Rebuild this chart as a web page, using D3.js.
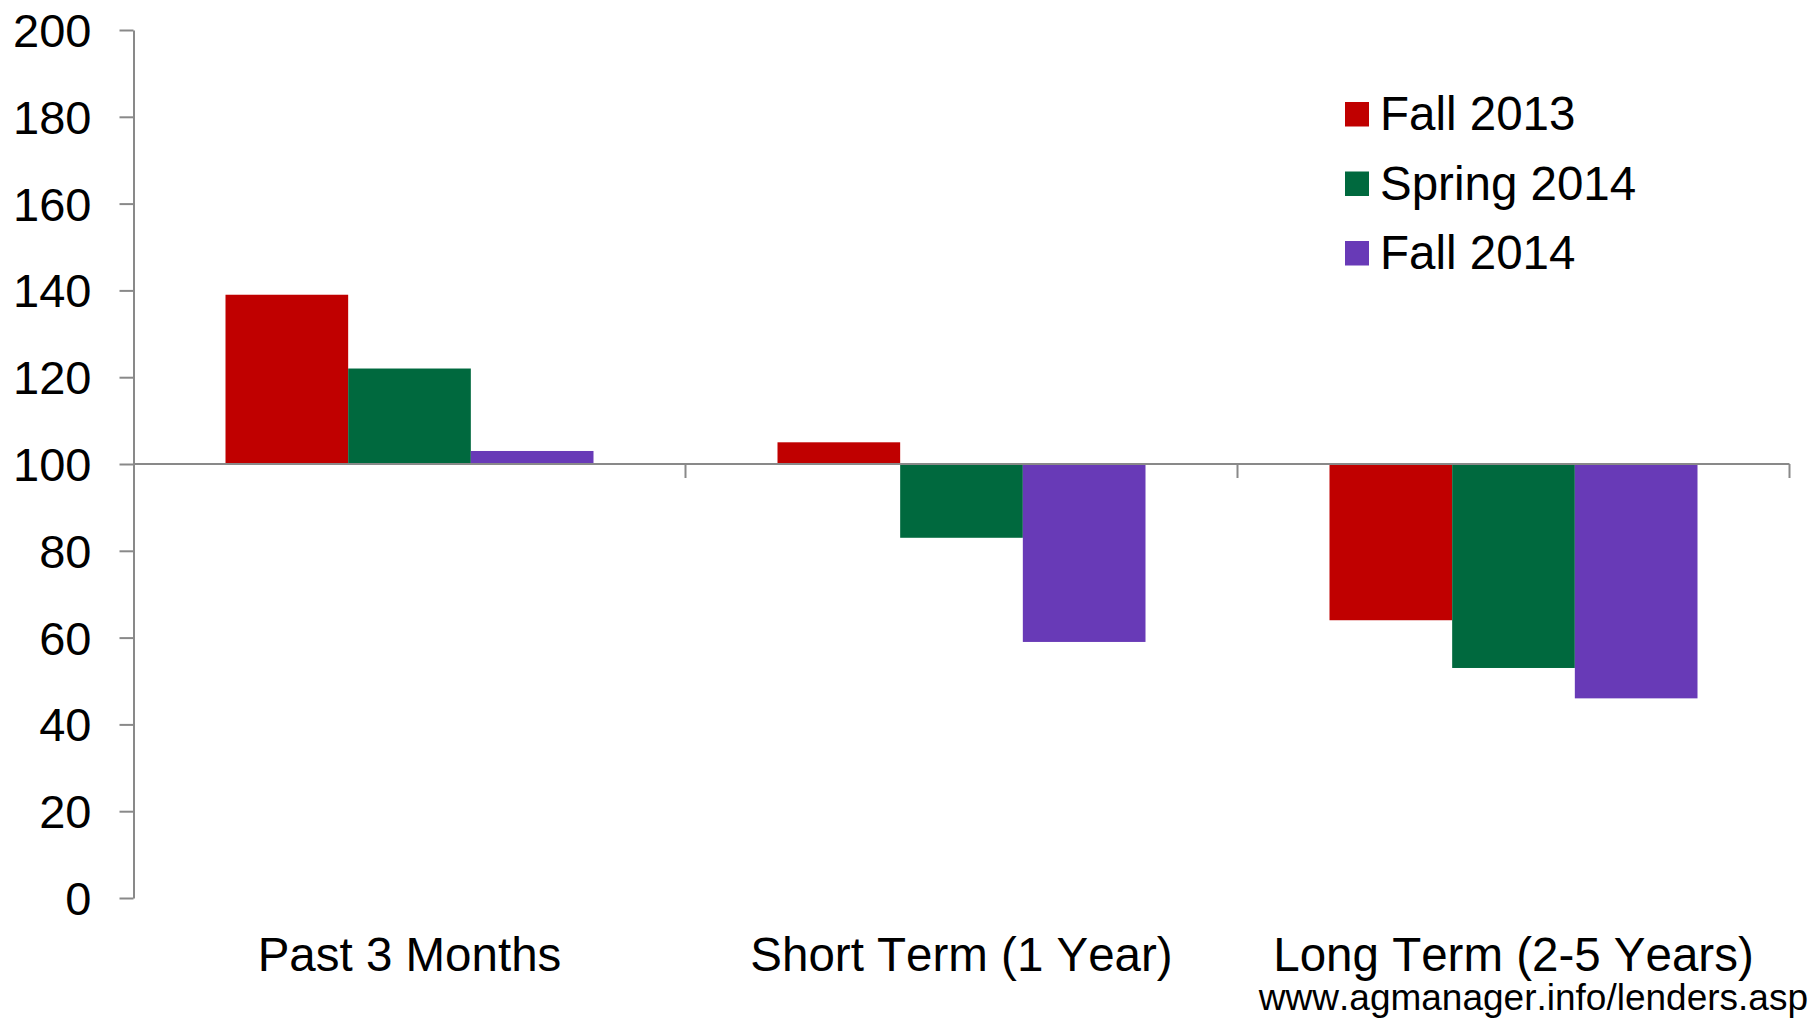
<!DOCTYPE html>
<html>
<head>
<meta charset="utf-8">
<script src="https://cdn.jsdelivr.net/npm/d3@7"></script>
<style>
  html, body { margin: 0; padding: 0; background: #fff; }
  svg { display: block; }
  text { font-family: "Liberation Sans", Arial, sans-serif; fill: #000; font-kerning: none; }
</style>
</head>
<body>
<svg id="chart" width="1819" height="1020"></svg>
<script>
// Lender survey index by outlook horizon (100 = neutral baseline)
const categories = ["Past 3 Months", "Short Term (1 Year)", "Long Term (2-5 Years)"];
const seriesNames = ["Fall 2013", "Spring 2014", "Fall 2014"];
const fall2013 = [139, 105, 64];
const spring2014 = [122, 83, 53];
const fall2014 = [103, 59, 46];
const seriesValues = [fall2013, spring2014, fall2014];
const seriesColors = ["#C00000", "#00693E", "#683AB7"];
const yTicks = [0, 20, 40, 60, 80, 100, 120, 140, 160, 180, 200];
const baseline = 100;
const sourceNote = "www.agmanager.info/lenders.asp";

const svg = d3.select("#chart");
const axisColor = "#898989";

const x0 = d3.scaleBand().domain(categories).range([133.5, 1789.5]).padding(0);
const x1 = d3.scaleBand().domain(seriesNames)
  .range([x0.bandwidth() / 6, x0.bandwidth() * 5 / 6]).padding(0);
const y = d3.scaleLinear().domain([0, 200]).range([898, 30]);

// Bars grow up or down from the 100 baseline
const rows = [];
categories.forEach((c, i) => {
  seriesNames.forEach((s, j) => {
    rows.push({ cat: c, series: s, value: seriesValues[j][i], color: seriesColors[j] });
  });
});

svg.append("g").selectAll("rect").data(rows).join("rect")
  .attr("x", d => x0(d.cat) + x1(d.series))
  .attr("width", x1.bandwidth())
  .attr("y", d => Math.min(y(d.value), y(baseline)))
  .attr("height", d => Math.abs(y(d.value) - y(baseline)))
  .attr("fill", d => d.color);

// Value axis
const yAxis = svg.append("g")
  .attr("transform", "translate(133.5,0)")
  .call(d3.axisLeft(y).tickValues(yTicks).tickSize(14).tickSizeOuter(0).tickPadding(28));
yAxis.select(".domain").attr("stroke", axisColor).attr("stroke-width", 2);
yAxis.selectAll(".tick line").attr("stroke", axisColor).attr("stroke-width", 2);
yAxis.selectAll(".tick text")
  .attr("font-size", 47)
  .attr("font-family", "'Liberation Sans', Arial, sans-serif")
  .attr("fill", "#000")
  .attr("dy", "0.35em");

// Category axis crossing at 100, with ticks on band boundaries
const xAxisG = svg.append("g").attr("transform", `translate(0,${y(baseline)})`);
xAxisG.append("line")
  .attr("x1", x0.range()[0]).attr("x2", x0.range()[1])
  .attr("stroke", axisColor).attr("stroke-width", 2);
xAxisG.selectAll(".cat-tick").data(categories).join("line")
  .attr("class", "cat-tick")
  .attr("x1", d => x0(d) + x0.bandwidth()).attr("x2", d => x0(d) + x0.bandwidth())
  .attr("y1", 0).attr("y2", 14)
  .attr("stroke", axisColor).attr("stroke-width", 2);

// Category labels below the plot
svg.append("g").selectAll("text").data(categories).join("text")
  .attr("x", d => x0(d) + x0.bandwidth() / 2)
  .attr("y", 971)
  .attr("text-anchor", "middle")
  .attr("font-size", 47.5)
  .text(d => d);

// Legend
const legend = svg.append("g").attr("transform", "translate(1345,0)");
const legendRows = legend.selectAll("g").data(seriesNames).join("g")
  .attr("transform", (d, i) => `translate(0,${130 + i * 69.5})`);
legendRows.append("rect")
  .attr("x", 0).attr("y", -28).attr("width", 24).attr("height", 24.5)
  .attr("fill", (d, i) => seriesColors[i]);
legendRows.append("text")
  .attr("x", 35).attr("y", 0)
  .attr("font-size", 47.5)
  .text(d => d);

// Source note
svg.append("text")
  .attr("x", 1808).attr("y", 1010)
  .attr("text-anchor", "end")
  .attr("font-size", 37)
  .text(sourceNote);
</script>
</body>
</html>
